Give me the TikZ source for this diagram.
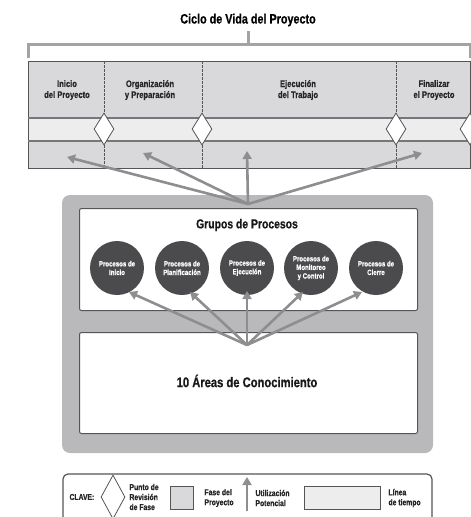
\documentclass[tikz,border=0pt]{standalone}
\usepackage{fontspec}
\setmainfont{Liberation Sans}[FakeStretch=0.8,FakeBold=0.6]
\usetikzlibrary{shapes.geometric,arrows.meta}
\definecolor{bandgray}{HTML}{D9D9DB}
\definecolor{timegray}{HTML}{EDEDEE}
\definecolor{bordergray}{HTML}{555557}
\definecolor{arrowgray}{HTML}{8E8E90}
\definecolor{outergray}{HTML}{B9B9BB}
\definecolor{circgray}{HTML}{4B4B4E}
\definecolor{brackgray}{HTML}{A3A3A5}
\tikzset{
  phaselabel/.style={font=\bfseries\fontsize{9.5}{11}\selectfont, align=center, text=black!85},
  revdiam/.style={diamond, draw=bordergray, fill=white, line width=0.8pt, minimum width=20pt, minimum height=32pt, inner sep=0pt},
  bigarrow/.style={draw=arrowgray, line width=2.6pt, -{Triangle[length=8pt,width=9pt]}},
  procircle/.style={circle, fill=circgray, minimum size=54pt, inner sep=0pt, text=white, align=center, font=\bfseries\fontsize{7.6}{8.6}\selectfont},
  whitebox/.style={draw=bordergray, fill=white, line width=1pt, rounded corners=2pt},
  legtext/.style={anchor=west, align=left, font=\bfseries\fontsize{8.5}{10}\selectfont, text=black!85}
}
\begin{document}
\begin{tikzpicture}[x=1pt,y=-1pt]
\useasboundingbox (0,0) rectangle (471,517);
\clip (0,0) rectangle (471,517);
% title and bracket
\node[font=\bfseries\fontsize{13.5}{15}\selectfont] (title) at (248,20) {Ciclo de Vida del Proyecto};
\coordinate (bl) at (28,58);
\coordinate (br) at (470,58);
\coordinate (bs) at (248,31);
\draw[brackgray, line width=3pt] (bl) |- (br |- 0,44) -- (br);
\draw[brackgray, line width=3pt] (bs) -- (248,44);
% band
\fill[bandgray] (28,61) rectangle (470,168);
\fill[timegray] (28,118) rectangle (470,141);
\draw[bordergray, line width=1pt] (28,61) rectangle (470,168);
\draw[bordergray!80, line width=1.4pt] (28,118) -- (470,118);
\draw[bordergray!80, line width=1.4pt] (28,141) -- (470,141);
\foreach \x in {104,202,396} {
  \draw[bordergray, line width=0.6pt, dash pattern=on 2.5pt off 1.5pt] (\x,61) -- (\x,168);
}
\node[revdiam] (d1) at (104,129) {};
\node[revdiam] (d2) at (202,129) {};
\node[revdiam] (d3) at (396,129) {};
\node[revdiam] (d4) at (470,129) {};
\node[phaselabel] (p1) at (67,90) {Inicio\\del Proyecto};
\node[phaselabel] (p2) at (150,90) {Organización\\y Preparación};
\node[phaselabel] (p3) at (298,90) {Ejecución\\del Trabajo};
\node[phaselabel] (p4) at (434,90) {Finalizar\\el Proyecto};
\coordinate (t1) at (67,157);
\coordinate (t2) at (143,153);
\coordinate (t3) at (247,151);
\coordinate (t4) at (422,153);
% outer gray box
\fill[outergray, rounded corners=8pt] (62,195) rectangle (433,453);
\node[whitebox, minimum width=338pt, minimum height=102pt, anchor=north west] (grp) at (79,208) {};
\node[whitebox, minimum width=338pt, minimum height=101pt, anchor=north west] (areas) at (79,332) {};
\node[font=\bfseries\fontsize{13}{15}\selectfont, text=black!90] (grptitle) at (247,225) {Grupos de Procesos};
\node[font=\bfseries\fontsize{14}{16}\selectfont, text=black!90] (areastitle) at (247,381) {10 Áreas de Conocimiento};
% circles
\node[procircle] (c1) at (117,268) {Procesos de\\Inicio};
\node[procircle] (c2) at (182,268) {Procesos de\\Planificación};
\node[procircle] (c3) at (247,268) {Procesos de\\Ejecución};
\node[procircle] (c4) at (311,268) {Procesos de\\Monitoreo\\y Control};
\node[procircle] (c5) at (376,268) {Procesos de\\Cierre};
% top arrows
\coordinate (hub1) at (248,204);
\foreach \t in {t1,t2,t3,t4} { \draw[bigarrow] (hub1) -- (\t); }
% lower arrows
\coordinate (hub2) at (247,345);
\draw[bigarrow] (hub2) -- (129,292);
\draw[bigarrow] (hub2) -- (190,292);
\draw[bigarrow] (hub2) -- (247,291);
\draw[bigarrow] (hub2) -- (303,292);
\draw[bigarrow] (hub2) -- (362,292);
% legend
\draw[bordergray, line width=1.2pt, rounded corners=5pt, fill=white] (63,474) rectangle (432,530);
\node[font=\bfseries\fontsize{8.5}{10}\selectfont, anchor=west, text=black!85] (clave) at (66,497) {CLAVE:};
\node[diamond, draw=bordergray, fill=white, line width=0.8pt, minimum width=24pt, minimum height=44pt, inner sep=0pt] (kd) at (113,497) {};
\node[legtext] (kdt) at (126,497) {Punto de\\Revisión\\de Fase};
\node[draw=bordergray, fill=bandgray, line width=0.8pt, minimum width=23pt, minimum height=23pt, inner sep=0pt] (ksq) at (182,498) {};
\node[legtext] (ksqt) at (201,498) {Fase del\\Proyecto};
\coordinate (ka1) at (247,511);
\coordinate (ka2) at (247,477);
\draw[bigarrow] (ka1) -- (ka2);
\node[legtext] (kat) at (252,498) {Utilización\\Potencial};
\node[draw=bordergray, fill=timegray, line width=0.8pt, minimum width=76pt, minimum height=23pt, inner sep=0pt] (ktl) at (342,498) {};
\node[legtext] (ktlt) at (385,498) {Línea\\de tiempo};
\end{tikzpicture}
\end{document}
